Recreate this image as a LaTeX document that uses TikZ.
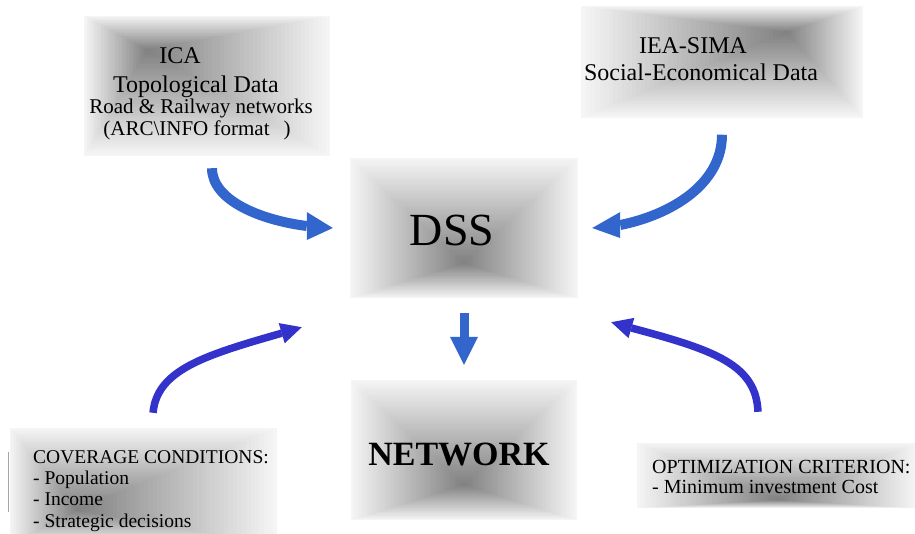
\documentclass[tikz,border=0pt]{standalone}
\usepackage{fontspec}
\setmainfont{Liberation Serif}
\usetikzlibrary{calc}

\definecolor{arrowblue}{RGB}{51,102,204}
\definecolor{curveblue}{RGB}{51,51,204}

% gray box: nested rectangles shrinking towards the dark point #2
\newcommand{\grayfill}[2]{%
  \foreach \bsk in {0,...,44}{%
    \pgfmathsetmacro{\bsf}{\bsk/45}%
    \pgfmathsetmacro{\bsp}{4+46*\bsf}%
    \fill[black!\bsp] ($(#1.south west)!\bsf!(#2)$) rectangle ($(#1.north east)!\bsf!(#2)$);
  }}

\begin{document}
\begin{tikzpicture}[x=1pt,y=1pt]
\tikzstyle{every node}+=[inner sep=0pt]
\tikzstyle{shadebox}=[rectangle, draw=none]
\tikzstyle{bigtext}=[anchor=base, font=\fontsize{24}{28}\selectfont]
\tikzstyle{midtext}=[anchor=base, font=\fontsize{21}{24}\selectfont]
\tikzstyle{listtext}=[anchor=base west, font=\fontsize{19.5}{21}\selectfont]
\tikzstyle{thickarrow}=[arrowblue, line width=10pt]
\tikzstyle{thinarrow}=[curveblue, line width=7.5pt]
\useasboundingbox (0,0) rectangle (915,-533);
% boxes
\node[shadebox, minimum width=245, minimum height=140] (ica) at (207,-86) {};
\node[shadebox, minimum width=281, minimum height=111] (iea) at (722,-62) {};
\node[shadebox, minimum width=228, minimum height=140] (dss) at (464,-228) {};
\node[shadebox, minimum width=226, minimum height=140] (net) at (464,-450) {};
\node[shadebox, minimum width=267, minimum height=117] (cov) at (143.5,-486.5) {};
\node[shadebox, minimum width=280, minimum height=65] (opt) at (777,-475.5) {};
\coordinate (icadark) at (147,-50);
\coordinate (ieadark) at (787,-32);
\coordinate (dssdark) at (464,-263);
\coordinate (netdark) at (464,-485);
\coordinate (covdark) at (77,-510);
\coordinate (optdark) at (777,-500);
\grayfill{ica}{icadark}
\grayfill{iea}{ieadark}
\grayfill{dss}{dssdark}
\grayfill{net}{netdark}
\grayfill{cov}{covdark}
\grayfill{opt}{optdark}
% sources
\node[bigtext] (icaname) at (180,-63) {ICA};
\node[bigtext] (icatopo) at (196,-92) {Topological Data};
\node[midtext] (icaroad) at (201,-113) {Road \& Railway networks};
\node[midtext] (icaformat) at (197,-135) {(ARC\textbackslash INFO format\enspace\,)};
\node[bigtext] (ieaname) at (693,-53) {IEA-SIMA};
\node[bigtext] (ieadata) at (701,-80) {Social-Economical Data};
% centre
\node[anchor=base, font=\fontsize{46}{50}\selectfont] (dsslabel) at (452,-245) {DSS};
\node[anchor=base, font=\fontsize{34}{38}\selectfont\bfseries] (netlabel) at (459,-465) {NETWORK};
% constraints
\draw[gray!70, line width=0.8pt] (8,-452) -- (8,-512);
\node[listtext] (covhead) at (33,-463) {COVERAGE CONDITIONS:};
\node[listtext] (covpop) at (33,-484) {- Population};
\node[listtext] (covinc) at (33,-505) {- Income};
\node[listtext] (covstr) at (33,-527) {- Strategic decisions};
\node[listtext, font=\fontsize{20}{22}\selectfont] (opthead) at (652,-473) {OPTIMIZATION CRITERION:};
\node[listtext, font=\fontsize{20}{22}\selectfont] (optcost) at (652,-493) {- Minimum investment Cost};
% arrows into DSS
\coordinate (icastart) at ([shift={(5,-12)}]ica.south);
\coordinate (icatip) at ([xshift=-17]dss.west);
\draw[thickarrow] (icastart) .. controls +(0,-32) and +(-47,6) .. ([shift={(-26,2)}]icatip);
\fill[arrowblue] (icatip) -- ++(-26,16) -- ++(0,-28) -- cycle;
\coordinate (ieastart) at ([yshift=-17]iea.south);
\coordinate (ieatip) at ([xshift=14]dss.east);
\draw[thickarrow] (ieastart) .. controls +(0,-50) and +(50,10) .. ([shift={(28,3)}]ieatip);
\fill[arrowblue] (ieatip) -- ++(28,16) -- ++(0,-26) -- cycle;
\coordinate (covstart) at ([shift={(9.5,15)}]cov.north);
\coordinate (covtip) at ([shift={(-48,-29)}]dss.south west);
\draw[thinarrow] (covstart) .. controls +(4,43) and +(-76.9,-22) .. ([shift={(-20.1,-6)}]covtip);
\fill[curveblue] (covtip) -- ++(-23.1,4.1) -- ++(6,-20.2) -- cycle;
\coordinate (optstart) at ([shift={(-19,31)}]opt.north);
\coordinate (opttip) at ([shift={(33,-24)}]dss.south east);
\draw[thinarrow] (optstart) .. controls +(-2,47) and +(83.8,-22.2) .. ([shift={(20.2,-5.8)}]opttip);
\fill[curveblue] (opttip) -- ++(23.1,4.3) -- ++(-5.8,-20.2) -- cycle;
% DSS to network
\coordinate (downstart) at ([yshift=-15]dss.south);
\coordinate (downtip) at ([yshift=15]net.north);
\draw[arrowblue, line width=9pt] (downstart) -- ([yshift=27]downtip);
\fill[arrowblue] (downtip) -- ++(-14,28) -- ++(28,0) -- cycle;
\end{tikzpicture}
\end{document}
